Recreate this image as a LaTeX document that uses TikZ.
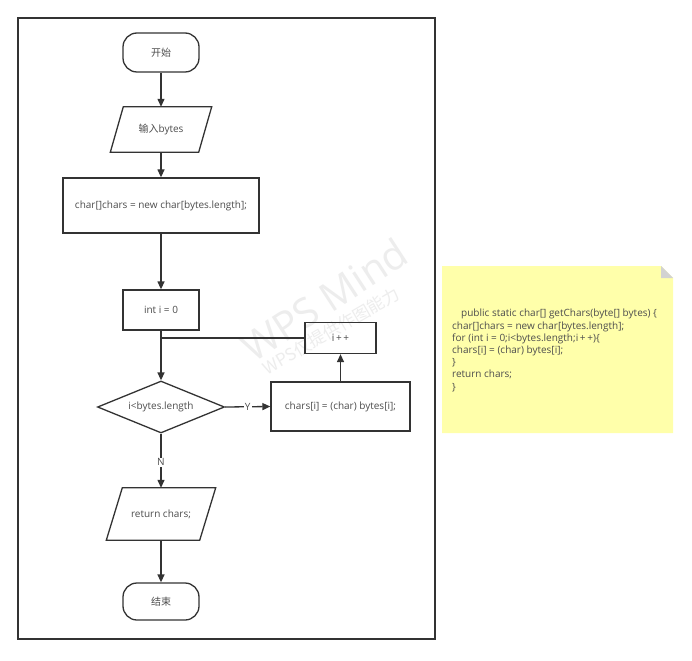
\documentclass[tikz,border=0pt]{standalone}
\usepackage{fontspec}
\setmainfont{Open Sans}
\newfontfamily\cjk{Noto Sans CJK SC}
\usetikzlibrary{arrows.meta,calc,shapes.geometric}
\definecolor{ln}{HTML}{333333}
\definecolor{tx}{HTML}{4D4D4D}
\definecolor{notefill}{HTML}{FFFFAA}
\definecolor{foldc}{HTML}{D2D2D2}
\definecolor{wm}{HTML}{EDEDED}
\newcommand\drawpara[2]{\draw[ln, line width=1.3pt] ($(#1.north west)+(#2,0)$) -- ($(#1.north east)+(#2,0)$) -- ($(#1.south east)-(#2,0)$) -- ($(#1.south west)-(#2,0)$) -- cycle;}
\begin{document}
\begin{tikzpicture}[x=1pt,y=-1pt,
  base/.style={font=\fontsize{10}{12}\selectfont, text=tx, inner sep=0pt},
  term/.style={base, draw=ln, line width=1.3pt, rounded corners=14pt, minimum width=76pt},
  proc/.style={base, draw=ln, line width=1.3pt},
  para/.style={base},
  dec/.style={base, draw=ln, line width=1.3pt, diamond, aspect=2.44, minimum width=127pt, minimum height=52pt},
  conn/.style={draw=ln, line width=1.3pt, -{Triangle[length=8pt,width=7pt]}},
  plain/.style={draw=ln, line width=1.3pt},
  lbl/.style={base, fill=white, inner sep=1pt},
  frame/.style={draw=ln, line width=1.3pt, inner sep=0pt},
  wmark/.style={text=wm, inner sep=0pt}
]
\useasboundingbox (0,0) rectangle (692,660);
\fill[white] (0,0) rectangle (692,660);

% watermark
\node[wmark, font=\fontsize{40}{40}\selectfont, rotate=33] (wm1) at (324,300) {WPS Mind};
\node[wmark, font=\fontsize{17}{17}\selectfont\cjk, rotate=30] (wm2) at (331,331) {WPS仅提供作图能力};

% frame
\node[frame, minimum width=417pt, minimum height=621pt] (box) at (226.5,328.5) {};

% flow nodes
\node[term, minimum height=39pt] (start) at (161,52.5) {\cjk 开始};
\node[para, minimum width=88pt, minimum height=45pt] (input) at (161,129.5) {{\cjk 输入}bytes};
\drawpara{input}{6.5}
\node[proc, minimum width=196pt, minimum height=55pt] (arr) at (161,205.5) {char[]chars = new char[bytes.length];};
\node[proc, minimum width=76pt, minimum height=40pt] (init) at (161,310) {int i = 0};
\node[dec] (cond) at (161,407) {i<bytes.length};
\node[proc, minimum width=139pt, minimum height=49pt] (body) at (340.5,406.5) {chars[i] = (char) bytes[i];};
\node[proc, minimum width=71pt, minimum height=31pt] (inc) at (340.5,338) {i\,+\,+};
\node[para, minimum width=93pt, minimum height=52pt] (ret) at (161,514) {return chars;};
\drawpara{ret}{8}
\node[term, minimum height=37pt] (stop) at (161,601.5) {\cjk 结束};

% connectors
\draw[conn] (start) -- (input);
\draw[conn] (input) -- (arr);
\draw[conn] (arr) -- (init);
\draw[conn] (init) -- (cond);
\draw[plain] (inc.west) -- (inc.west -| init.south);
\draw[conn] (cond.east) -- node[lbl] {Y} (body.west);
\draw[conn] (body) -- (inc);
\draw[conn] (cond.south) -- node[lbl, pos=0.53] {N} (ret.north);
\draw[conn] (ret) -- (stop);

% note
\fill[notefill] (442,266) -- (661,266) -- (673,278) -- (673,433) -- (442,433) -- cycle;
\fill[foldc] (661,266) -- (673,278) -- (661,278) -- cycle;
\node[base, align=left, anchor=west, font=\fontsize{10}{12.2}\selectfont] (code) at (452,350.5) {\hspace*{9pt}public static char[] getChars(byte[] bytes) \{\\
char[]chars = new char[bytes.length];\\
for (int i = 0;i<bytes.length;i\,+\,+)\{\\
chars[i] = (char) bytes[i];\\
\}\\
return chars;\\
\}};
\end{tikzpicture}
\end{document}
